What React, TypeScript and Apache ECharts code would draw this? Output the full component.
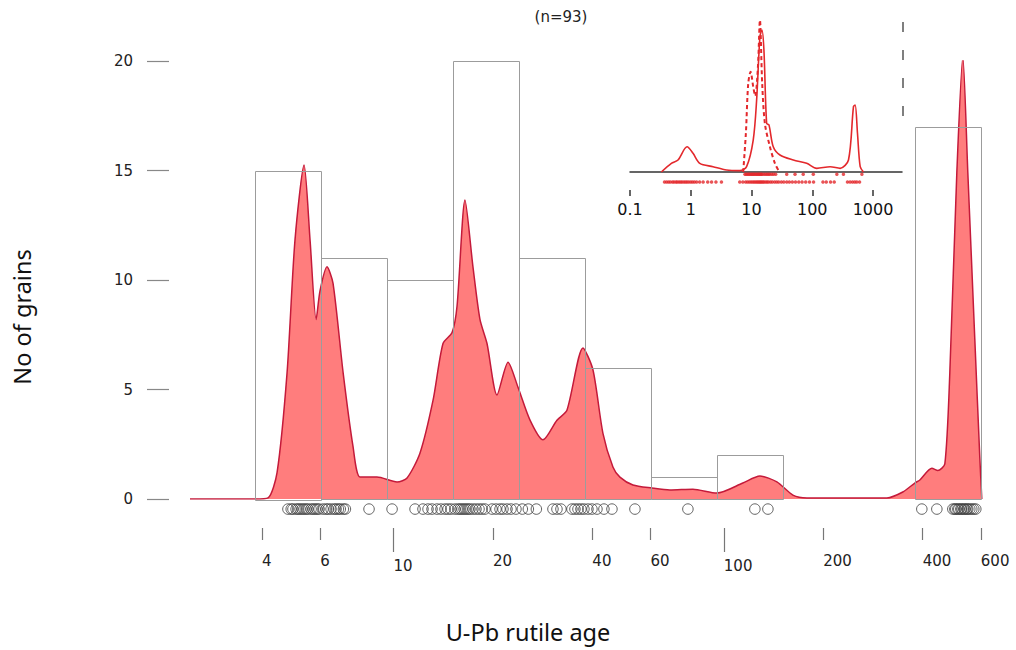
import React, { useEffect, useRef } from "react";
import * as echarts from "echarts";

// ---------- data ----------
const binEdges = [3.81, 6.04, 9.55, 15.1, 24.0, 38.0, 60.1, 95.5, 151, 240, 380, 602];
const binCounts = [15, 11, 10, 20, 11, 6, 1, 2, 0, 0, 17];

const kdeAge = [2.42, 3.81, 4.17, 4.44, 4.76, 5.03, 5.36, 5.59, 5.83, 5.99, 6.29, 6.56, 7.04, 7.54, 7.92, 8.91, 10.25, 10.99, 12.03, 13.17, 14.12, 15.04, 15.57, 16.46, 17.4, 18.27, 19.19, 20.57, 22.22, 23.82, 25.9, 28.35, 31.25, 33.5, 37.46, 40.16, 43.06, 46.16, 48.47, 53.07, 60.59, 68.67, 80.62, 95.3, 114.2, 128.6, 144.8, 161.9, 178.4, 311.7, 348.3, 378.8, 392.3, 426.5, 444.6, 466.9, 483.4, 507.6, 529.3, 548.1, 575.4, 595.8, 604.2];
const kdeDensity = [0, 0, 0.05, 1.2, 5.75, 11.8, 15.25, 11.8, 8.2, 9.5, 10.6, 9.85, 5.75, 2.4, 1.0, 1.0, 0.78, 0.96, 2.1, 4.5, 7.1, 7.6, 8.8, 13.65, 10.6, 8.2, 7.1, 4.75, 6.25, 5.1, 3.6, 2.7, 3.6, 4.05, 6.9, 5.9, 3.0, 1.46, 1.0, 0.64, 0.5, 0.41, 0.45, 0.27, 0.73, 1.05, 0.78, 0.18, 0.05, 0.05, 0.32, 0.73, 0.87, 1.4, 1.3, 1.6, 5.75, 14.9, 20.2, 14.9, 7.3, 1.9, 0];

const grainAges = [
  4.79, 4.9, 4.96, 5.07, 5.14, 5.21, 5.29, 5.36, 5.44, 5.51, 5.63, 5.71, 5.79, 5.87, 5.95,
  6.12, 6.25, 6.34, 6.47, 6.61, 6.7, 6.81, 6.9, 7.05, 7.15, 8.43,
  9.9, 11.62, 12.28, 12.72, 13.08, 13.54, 13.92, 14.32, 14.62, 14.93,
  15.35, 15.68, 15.9, 16.12, 16.35, 16.57, 16.81, 17.04, 17.4, 17.77, 18.15, 18.53, 18.92, 19.87, 20.43, 21.01, 21.45, 22.06, 22.68, 23.48,
  24.55, 25.6, 27.07, 30.39, 31.25, 32.13, 34.69, 35.43, 36.18, 36.94, 37.72,
  38.79, 39.88, 41.3, 43.36, 45.85, 53.82,
  77.86,
  124.2, 136.0,
  397.7, 441.6, 493.6, 500.5, 504.0, 511.1, 514.7, 521.9, 525.6, 532.9, 536.7, 544.2, 548.0, 555.7, 563.5, 571.4, 579.4,
];

const minorTicks = [4, 6, 20, 40, 60, 200, 400, 600];
const majorTicks = [10, 100];
const yTicks = [0, 5, 10, 15, 20];

// inset (age distribution comparison)
const insetSolidAge = [0.328, 0.48, 0.617, 0.869, 1.09, 1.408, 2.33, 3.88, 6.44, 8.3, 10.67, 12.13, 13.76, 14.85, 16.02, 17.74, 19.37, 22.8, 29.4, 48.8, 81, 118.6, 196.8, 287.5, 394.6, 476.8, 508, 555, 615, 697];
const insetSolidHeight = [0, 0.057, 0.079, 0.166, 0.123, 0.057, 0.035, 0.013, 0.009, 0.035, 0.21, 0.47, 0.89, 0.934, 0.8, 0.32, 0.31, 0.166, 0.112, 0.079, 0.057, 0.024, 0.035, 0.024, 0.079, 0.43, 0.44, 0.255, 0.035, 0];
const insetDashedAge = [7.3, 8.08, 8.82, 9.66, 10.67, 11.5, 12.75, 13.76, 15.0, 16.6, 20.1, 24.3, 28.7];
const insetDashedHeight = [0, 0.255, 0.58, 0.66, 0.56, 0.5, 0.69, 1.0, 0.58, 0.32, 0.166, 0.057, 0];
const insetDotsLower = [0.37, 0.4, 0.43, 0.46, 0.5, 0.53, 0.57, 0.6, 0.64, 0.68, 0.72, 0.77, 0.82, 0.87, 0.93, 1.0, 1.07, 1.15, 1.25, 1.4, 1.6, 1.9, 2.2, 2.6, 3.2, 6.4, 7.2, 8.0, 8.6, 9.2, 9.8, 10.4, 11, 11.6, 12.2, 12.8, 13.4, 14, 14.6, 15.3, 16, 17, 18, 19, 20.5, 22, 24, 26, 28, 31, 34, 38, 42, 47, 53, 60, 68, 78, 90, 105, 150, 170, 200, 230, 380, 420, 460, 500, 540, 600];
const insetDotsUpper = [7.8, 8.2, 8.6, 9.0, 9.4, 9.8, 10.2, 10.6, 11, 11.5, 12, 12.5, 13, 13.5, 14, 14.5, 15, 16, 17, 18, 19, 20, 21.5, 23, 25, 38, 52, 71, 104, 254, 326, 656];
const insetTicks = [0.1, 1, 10, 100, 1000];
const insetTickLabels = ["0.1", "1", "10", "100", "1000"];

// ---------- layout / styling ----------
const MAIN_MIN = 2.42;
const MAIN_MAX = 605;
const INSET_MIN = 0.1;
const INSET_MAX = 3000;
const FONT = "DejaVu Sans";
const lg = (v: number) => Math.log10(v);

function labelFor(ticks: number[], labels: string[] | null) {
  return (v: number) => {
    for (let i = 0; i < ticks.length; i++) {
      if (Math.abs(lg(ticks[i]) - v) < 1e-6) return labels ? labels[i] : String(ticks[i]);
    }
    return "";
  };
}

function buildOption(): any {
  const kdeData = kdeAge.map((a, i) => [a, kdeDensity[i]]);
  const histData = binCounts
    .map((c, i) => [binEdges[i], binEdges[i + 1], c])
    .filter((d) => d[2] > 0);
  const grainData = grainAges.map((a) => [a, -0.46]);

  return {
    animation: false,
    backgroundColor: "#ffffff",
    grid: [
      { left: 190, top: 61, width: 792, height: 438, outerBoundsMode: "none" },
      { left: 630, top: 20, width: 272, height: 152, outerBoundsMode: "none" },
    ],
    xAxis: [
      // 0: data axis (log) for main chart
      { type: "log", logBase: 10, gridIndex: 0, min: MAIN_MIN, max: MAIN_MAX, show: false },
      // 1: minor tick axis
      {
        type: "value", gridIndex: 0, position: "bottom", min: lg(MAIN_MIN), max: lg(MAIN_MAX), offset: 29,
        axisLine: { show: false, onZero: false }, splitLine: { show: false },
        axisTick: { show: true, length: 12, customValues: minorTicks.map(lg), lineStyle: { color: "#777", width: 1.2 } },
        axisLabel: { show: true, margin: 25, align: "left", customValues: minorTicks.map(lg), formatter: labelFor(minorTicks, null), fontFamily: FONT, fontSize: 15, color: "#222" },
      },
      // 2: major tick axis
      {
        type: "value", gridIndex: 0, position: "bottom", min: lg(MAIN_MIN), max: lg(MAIN_MAX), offset: 29,
        axisLine: { show: false, onZero: false }, splitLine: { show: false },
        axisTick: { show: true, length: 24, customValues: majorTicks.map(lg), lineStyle: { color: "#777", width: 1.2 } },
        axisLabel: { show: true, margin: 30, align: "left", customValues: majorTicks.map(lg), formatter: labelFor(majorTicks, null), fontFamily: FONT, fontSize: 15, color: "#222" },
      },
      // 3: inset data axis with baseline
      {
        type: "log", logBase: 10, gridIndex: 1, min: INSET_MIN, max: INSET_MAX,
        axisLine: { show: true, onZero: false, lineStyle: { color: "#333", width: 1.5 } },
        axisTick: { show: false }, axisLabel: { show: false }, splitLine: { show: false }, minorTick: { show: false }, minorSplitLine: { show: false },
      },
      // 4: inset tick axis
      {
        type: "value", gridIndex: 1, position: "bottom", min: lg(INSET_MIN), max: lg(INSET_MAX), offset: 18,
        axisLine: { show: false, onZero: false }, splitLine: { show: false },
        axisTick: { show: true, length: 6, customValues: insetTicks.map(lg), lineStyle: { color: "#333", width: 1.5 } },
        axisLabel: { show: true, margin: 11, customValues: insetTicks.map(lg), formatter: labelFor(insetTicks, insetTickLabels), fontFamily: FONT, fontSize: 16, color: "#111" },
      },
    ],
    yAxis: [
      {
        type: "value", gridIndex: 0, min: 0, max: 20, interval: 5, position: "left", offset: 21,
        axisLine: { show: false }, splitLine: { show: false },
        axisTick: { show: true, length: 22, customValues: yTicks, lineStyle: { color: "#888", width: 1.2 } },
        axisLabel: { show: true, margin: 36, customValues: yTicks, fontFamily: FONT, fontSize: 15, color: "#222" },
      },
      { type: "value", gridIndex: 1, min: 0, max: 1, show: false },
    ],
    series: [
      {
        type: "line", name: "KDE", xAxisIndex: 0, yAxisIndex: 0, data: kdeData, smooth: 0.25,
        symbol: "none", showSymbol: false, z: 2,
        lineStyle: { color: "#c41a3a", width: 1.5 },
        areaStyle: { color: "#ff7d7d", opacity: 1 },
      },
      {
        type: "custom", name: "Histogram", xAxisIndex: 0, yAxisIndex: 0, z: 4, clip: false,
        data: histData, encode: { x: [0, 1], y: 2 },
        renderItem: (params: any, api: any) => {
          const p0 = api.coord([api.value(0), api.value(2)]);
          const p1 = api.coord([api.value(1), 0]);
          return {
            type: "rect",
            shape: { x: Math.round(p0[0]) + 0.5, y: Math.round(p0[1]) + 0.5, width: Math.round(p1[0] - p0[0]), height: Math.round(p1[1] - p0[1]) },
            style: { fill: "none", stroke: "#9c9c9c", lineWidth: 1 },
          };
        },
      },
      {
        type: "scatter", name: "Grains", xAxisIndex: 0, yAxisIndex: 0, data: grainData, clip: false, z: 5,
        symbol: "circle", symbolSize: 10.5,
        itemStyle: { color: "rgba(0,0,0,0)", borderColor: "#3a3a3a", borderWidth: 1 },
      },
      {
        type: "line", name: "Inset solid", xAxisIndex: 3, yAxisIndex: 1, smooth: 0.3, symbol: "none", z: 6,
        data: insetSolidAge.map((a, i) => [a, insetSolidHeight[i]]),
        lineStyle: { color: "#e3282c", width: 1.6 },
      },
      {
        type: "line", name: "Inset dashed", xAxisIndex: 3, yAxisIndex: 1, smooth: 0.3, symbol: "none", z: 6,
        data: insetDashedAge.map((a, i) => [a, insetDashedHeight[i]]),
        lineStyle: { color: "#e3282c", width: 2, type: [4, 3] },
      },
      {
        type: "scatter", name: "Inset dots lower", xAxisIndex: 3, yAxisIndex: 1, clip: false, z: 6,
        data: insetDotsLower.map((a) => [a, -0.066]), symbol: "circle", symbolSize: 3.5,
        itemStyle: { color: "#e3282c" },
      },
      {
        type: "scatter", name: "Inset dots upper", xAxisIndex: 3, yAxisIndex: 1, clip: false, z: 6,
        data: insetDotsUpper.map((a) => [a, -0.015]), symbol: "circle", symbolSize: 3.5,
        itemStyle: { color: "#e3282c" },
      },
    ],
    graphic: [
      { type: "text", x: 561, y: 17, style: { text: "(n=93)", font: `15px "${FONT}"`, fill: "#222", textAlign: "center", textVerticalAlign: "middle" } },
      { type: "text", x: 528, y: 632, style: { text: "U-Pb rutile age", font: `23.5px "Noto Sans"`, fill: "#111", textAlign: "center", textVerticalAlign: "middle" } },
      { type: "text", x: 22, y: 317, rotation: Math.PI / 2, style: { text: "No of grains", font: `23.5px "Noto Sans"`, fill: "#111", textAlign: "center", textVerticalAlign: "middle" } },
      { type: "line", shape: { x1: 903, y1: 22, x2: 903, y2: 122 }, style: { stroke: "#555", lineWidth: 1.5, lineDash: [10, 18] } },
    ],
  };
}

export default function App() {
  const ref = useRef<HTMLDivElement>(null);
  useEffect(() => {
    if (!ref.current) return;
    const chart = echarts.init(ref.current, null, { renderer: "svg" });
    chart.setOption(buildOption());
    return () => chart.dispose();
  }, []);
  return (
    <div
      ref={ref}
      style={{ position: "fixed", left: 0, top: 0, width: 1016, height: 650, background: "#fff" }}
    />
  );
}
